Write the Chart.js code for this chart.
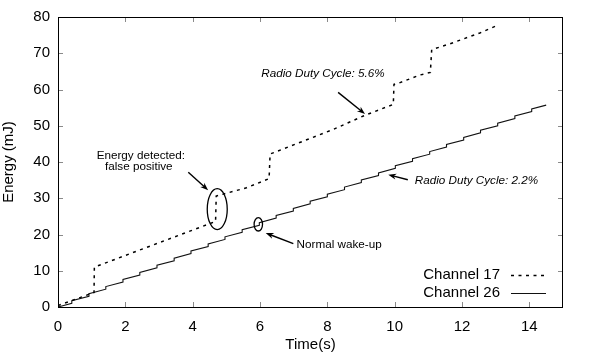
<!DOCTYPE html>
<html><head><meta charset="utf-8">
<script src="https://cdn.jsdelivr.net/npm/chart.js@4.4.1/dist/chart.umd.min.js"></script>
<style>html,body{margin:0;padding:0;background:#fff}#wrap{width:590px;height:358px}</style>
</head><body><div id="wrap"><canvas id="c" width="590" height="358"></canvas></div>
<script>
// ---- data ----
const seriesNames = ['Channel 17', 'Channel 26'];
const ch17Time   = [0, 1.07, 1.08, 4.68, 4.70, 5.60, 6.27, 6.30, 8.18, 9.07, 9.96, 9.98, 10.16, 10.75, 11.06, 11.10, 11.64, 12.53, 13.08];
const ch17Energy = [0.4, 4.0, 11.0, 23.6, 30.6, 32.9, 35.4, 42.2, 49.0, 52.7, 55.9, 61.4, 61.9, 64.0, 64.7, 71.0, 72.6, 75.6, 77.8];
const ch26Time   = [0, 0.41,0.41, 0.92,0.92, 1.42,1.42, 1.93,1.93, 2.43,2.43, 2.94,2.94, 3.45,3.45, 3.95,3.95, 4.46,4.46, 4.96,4.96, 5.47,5.47, 5.98,5.98, 6.48,6.48, 6.99,6.99, 7.49,7.49, 8.00,8.00, 8.51,8.51, 9.01,9.01, 9.52,9.52, 10.02,10.02, 10.53,10.53, 11.04,11.04, 11.54,11.54, 12.05,12.05, 12.55,12.55, 13.06,13.06, 13.57,13.57, 14.07,14.07, 14.5];
const ch26Energy = [0, 1.00,1.72, 2.96,3.68, 4.92,5.64, 6.88,7.60, 8.84,9.56, 10.80,11.52, 12.76,13.48, 14.72,15.44, 16.68,17.40, 18.64,19.36, 20.60,21.32, 22.56,23.28, 24.52,25.24, 26.48,27.20, 28.44,29.16, 30.40,31.12, 32.36,33.08, 34.32,35.04, 36.28,37.00, 38.24,38.96, 40.20,40.92, 42.16,42.88, 44.12,44.84, 46.08,46.80, 48.04,48.76, 50.00,50.72, 51.96,52.68, 53.92,54.64, 55.69];
const xTicks = [0, 2, 4, 6, 8, 10, 12, 14];
const yTicks = [0, 10, 20, 30, 40, 50, 60, 70, 80];
const xTitle = 'Time(s)';
const yTitle = 'Energy (mJ)';

// annotations (in data units)
const noteTexts  = ['Radio Duty Cycle: 5.6%', 'Radio Duty Cycle: 2.2%', 'Energy detected:', 'false positive', 'Normal wake-up'];
const noteX      = [7.87, 12.43, 2.46, 2.40, 8.35];
const noteY      = [64.4, 34.9, 41.8, 38.6, 17.3];
const noteItalic = [true, true, false, false, false];
const arrowFromX = [8.32, 10.39, 3.87, 6.99];
const arrowFromY = [59.2, 35.1, 37.2, 17.5];
const arrowToX   = [9.12, 9.81, 4.46, 6.17];
const arrowToY   = [53.25, 36.5, 32.2, 20.4];
const ellipseX   = [4.73, 5.95];
const ellipseY   = [27.0, 22.8];
const ellipseRX  = [0.297, 0.125];
const ellipseRY  = [5.64, 1.84];

const FONT = '"Liberation Sans", Arial, Helvetica, sans-serif';

const toPts = (xs, ys) => xs.map((v, i) => ({x: v, y: ys[i]}));

const deco = {
  id: 'deco',
  afterDatasetsDraw(chart) {
    const {ctx, chartArea: a, scales: {x, y}} = chart;
    ctx.save();
    // inner tick marks on all four sides
    ctx.strokeStyle = '#8a8a8a';
    ctx.lineWidth = 1;
    ctx.beginPath();
    xTicks.forEach(v => {
      const px = Math.round(x.getPixelForValue(v)) + 0.5;
      ctx.moveTo(px, a.bottom); ctx.lineTo(px, a.bottom - 5);
      ctx.moveTo(px, a.top); ctx.lineTo(px, a.top + 5);
    });
    yTicks.forEach(v => {
      const py = Math.round(y.getPixelForValue(v)) + 0.5;
      ctx.moveTo(a.left, py); ctx.lineTo(a.left + 5, py);
      ctx.moveTo(a.right, py); ctx.lineTo(a.right - 5, py);
    });
    ctx.stroke();
    // frame
    ctx.strokeStyle = '#000';
    ctx.strokeRect(Math.round(a.left) + 0.5, Math.round(a.top) + 0.5,
                   Math.round(a.right - a.left) - 1, Math.round(a.bottom - a.top));

    // annotation texts
    ctx.fillStyle = '#000';
    ctx.textAlign = 'center';
    ctx.textBaseline = 'middle';
    noteTexts.forEach((t, i) => {
      ctx.font = (noteItalic[i] ? 'italic ' : '') + '11.7px ' + FONT;
      ctx.fillText(t, x.getPixelForValue(noteX[i]), y.getPixelForValue(noteY[i]));
    });
    // arrows
    ctx.lineWidth = 1.4;
    arrowFromX.forEach((_, i) => {
      const x0 = x.getPixelForValue(arrowFromX[i]), y0 = y.getPixelForValue(arrowFromY[i]);
      const x1 = x.getPixelForValue(arrowToX[i]), y1 = y.getPixelForValue(arrowToY[i]);
      const ang = Math.atan2(y1 - y0, x1 - x0);
      const L = 8, W = 3;
      ctx.beginPath();
      ctx.moveTo(x0, y0);
      ctx.lineTo(x1 - Math.cos(ang) * L * 0.6, y1 - Math.sin(ang) * L * 0.6);
      ctx.stroke();
      ctx.beginPath();
      ctx.moveTo(x1, y1);
      ctx.lineTo(x1 - Math.cos(ang) * L - Math.sin(ang) * W, y1 - Math.sin(ang) * L + Math.cos(ang) * W);
      ctx.lineTo(x1 - Math.cos(ang) * L * 0.7, y1 - Math.sin(ang) * L * 0.7);
      ctx.lineTo(x1 - Math.cos(ang) * L + Math.sin(ang) * W, y1 - Math.sin(ang) * L - Math.cos(ang) * W);
      ctx.closePath();
      ctx.fill();
    });
    // ellipses
    ctx.lineWidth = 1.3;
    ellipseX.forEach((_, i) => {
      const cx = x.getPixelForValue(ellipseX[i]), cy = y.getPixelForValue(ellipseY[i]);
      const rx = Math.abs(x.getPixelForValue(ellipseX[i] + ellipseRX[i]) - cx);
      const ry = Math.abs(y.getPixelForValue(ellipseY[i] + ellipseRY[i]) - cy);
      ctx.beginPath();
      ctx.ellipse(cx, cy, rx, ry, 0, 0, Math.PI * 2);
      ctx.stroke();
    });

    // legend (bottom right, text right-aligned with line sample)
    ctx.font = '15px ' + FONT;
    ctx.textAlign = 'right';
    chart.data.datasets.forEach((ds, i) => {
      const ly = a.bottom - 32 + i * 18;
      ctx.fillStyle = '#000';
      ctx.fillText(ds.label, a.right - 63, ly);
      ctx.strokeStyle = ds.borderColor;
      ctx.lineWidth = ds.borderWidth;
      ctx.setLineDash(ds.borderDash || []);
      ctx.beginPath();
      ctx.moveTo(a.right - 52, ly + 0.5);
      ctx.lineTo(a.right - 17, ly + 0.5);
      ctx.stroke();
      ctx.setLineDash([]);
    });
    ctx.restore();
  }
};

new Chart(document.getElementById('c'), {
  type: 'scatter',
  data: {
    datasets: [
      { label: seriesNames[0], data: toPts(ch17Time, ch17Energy), showLine: true,
        borderColor: '#000', borderWidth: 1.5, borderDash: [3, 4.5], pointRadius: 0, tension: 0, fill: false },
      { label: seriesNames[1], data: toPts(ch26Time, ch26Energy), showLine: true,
        borderColor: '#111', borderWidth: 1.1, pointRadius: 0, tension: 0, fill: false }
    ]
  },
  options: {
    responsive: false,
    animation: false,
    devicePixelRatio: 1,
    layout: { padding: { top: 16, right: 27, left: 0, bottom: 0 } },
    plugins: { legend: { display: false }, tooltip: { enabled: false } },
    scales: {
      x: {
        type: 'linear', min: 0, max: 15,
        afterBuildTicks: s => { s.ticks = xTicks.map(v => ({value: v})); },
        afterFit: s => { s.height = 51; },
        grid: { display: true, drawOnChartArea: false, drawTicks: false },
        border: { display: false },
        ticks: { color: '#000', padding: 11, font: { family: FONT, size: 15 } },
        title: { display: true, text: xTitle, color: '#000', padding: { top: 0, bottom: 4 }, font: { family: FONT, size: 15 } }
      },
      y: {
        type: 'linear', min: 0, max: 80,
        afterBuildTicks: s => { s.ticks = yTicks.map(v => ({value: v})); },
        afterFit: s => { s.width = 58; },
        grid: { display: true, drawOnChartArea: false, drawTicks: false },
        border: { display: false },
        ticks: { color: '#000', padding: 8, font: { family: FONT, size: 15 } },
        title: { display: true, text: yTitle, color: '#000', padding: { top: 0, bottom: 0 }, font: { family: FONT, size: 15 } }
      }
    }
  },
  plugins: [deco]
});
</script>
</body></html>
